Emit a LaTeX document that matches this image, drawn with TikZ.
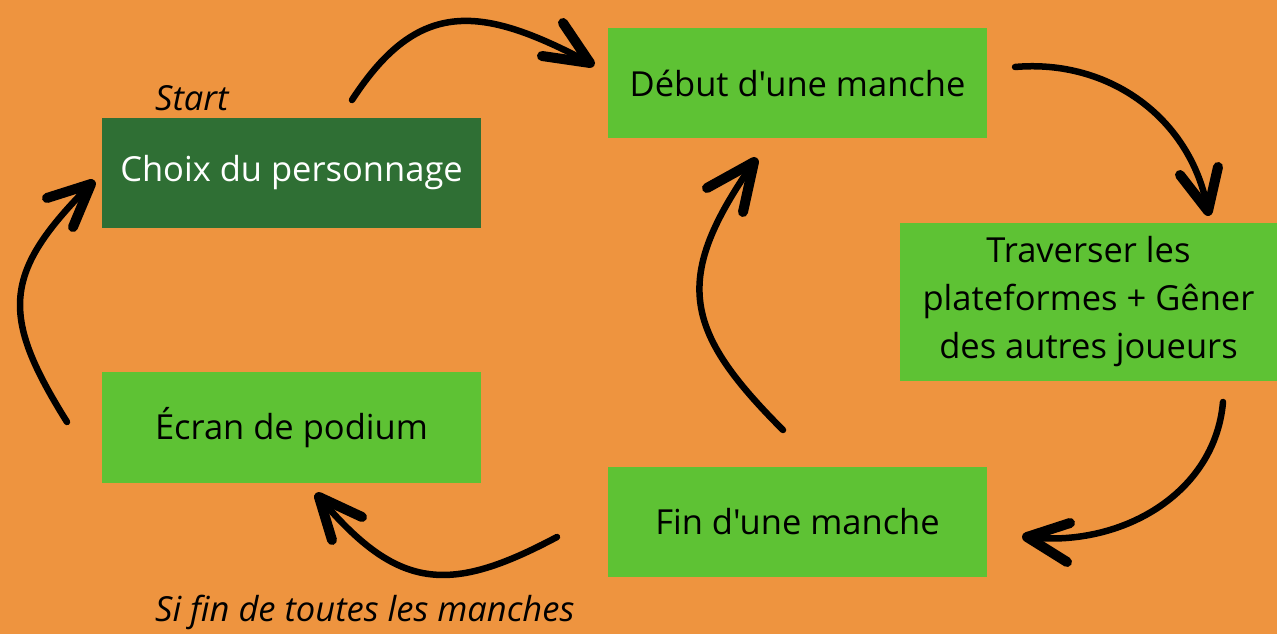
\documentclass[tikz,border=0pt]{standalone}
\usepackage{fontspec}
\newfontfamily\osans{Open Sans}
\definecolor{bgor}{HTML}{EE943F}
\definecolor{lgreen}{HTML}{5EC234}
\definecolor{dgreen}{HTML}{2F6F34}
\begin{document}
\begin{tikzpicture}[x=1pt,y=1pt,
  box/.style={fill=lgreen, draw=none, minimum width=379pt, minimum height=110pt, inner sep=0pt, align=center, font=\osans\fontsize{34.5}{48}\selectfont, text=black},
  curve/.style={line width=6.5pt, line cap=round},
  head/.style={line width=10pt, line cap=round, line join=round},
  lab/.style={font=\osans\fontsize{34.5}{40}\selectfont\itshape, inner sep=0pt, anchor=west}]
\fill[bgor] (0,0) rectangle (1277,634);
\useasboundingbox (0,0) rectangle (1277,634);

\node[box, fill=dgreen, text=white] (choix) at (291.5,461) {Choix du personnage};
\node[box] (debut) at (797.5,551) {Début d'une manche};
\node[box, minimum width=377pt, minimum height=158pt] (trav) at (1088.5,332) {Traverser les\\plateformes + Gêner\\des autres joueurs};
\node[box, minimum height=111pt] (podium) at (291.5,206.5) {Écran de podium};
\node[box] (fin) at (797.5,112) {Fin d'une manche};

\node[lab] (start) at (155,536) {Start};
\node[lab] (sifin) at (155,22) {Si fin de toutes les manches};

% arrow 1: choix -> debut
\coordinate (a1s) at (352,534); \coordinate (a1t) at (590,571);
\coordinate (a1p) at (563,611); \coordinate (a1q) at (542,578);
\draw[curve] (a1s) to[out=57,in=152,looseness=1.3] (a1t);
\draw[head] (a1p) -- (a1t) -- (a1q);

% arrow 2: debut -> traverser
\coordinate (a2s) at (1015,567); \coordinate (a2t) at (1208,423);
\coordinate (a2p) at (1180,459); \coordinate (a2q) at (1218,467);
\draw[curve] (a2s) to[out=5,in=100] (a2t);
\draw[head] (a2p) -- (a2t) -- (a2q);

% arrow 3: traverser -> fin
\coordinate (a3s) at (1223,232); \coordinate (a3t) at (1027,97);
\coordinate (a3p) at (1070,111); \coordinate (a3q) at (1067,72);
\draw[curve] (a3s) to[out=-95,in=-7] (a3t);
\draw[head] (a3p) -- (a3t) -- (a3q);

% arrow 4: fin -> podium
\coordinate (a4s) at (557,97); \coordinate (a4t) at (319,137);
\coordinate (a4p) at (362,117); \coordinate (a4q) at (332,94);
\draw[curve] (a4s) to[out=208,in=-50,looseness=1.3] (a4t);
\draw[head] (a4p) -- (a4t) -- (a4q);

% arrow 5: podium -> choix
\coordinate (a5s) at (67,212); \coordinate (a5t) at (91,450);
\coordinate (a5p) at (47,436); \coordinate (a5q) at (73,407);
\draw[curve] (a5s) to[out=122,in=225,looseness=1.35] (a5t);
\draw[head] (a5p) -- (a5t) -- (a5q);

% arrow 6: fin -> debut
\coordinate (a6s) at (783,204); \coordinate (a6t) at (754,472);
\coordinate (a6p) at (707,446); \coordinate (a6q) at (743,422);
\draw[curve] (a6s) to[out=135,in=235,looseness=1.35] (a6t);
\draw[head] (a6p) -- (a6t) -- (a6q);
\end{tikzpicture}
\end{document}
